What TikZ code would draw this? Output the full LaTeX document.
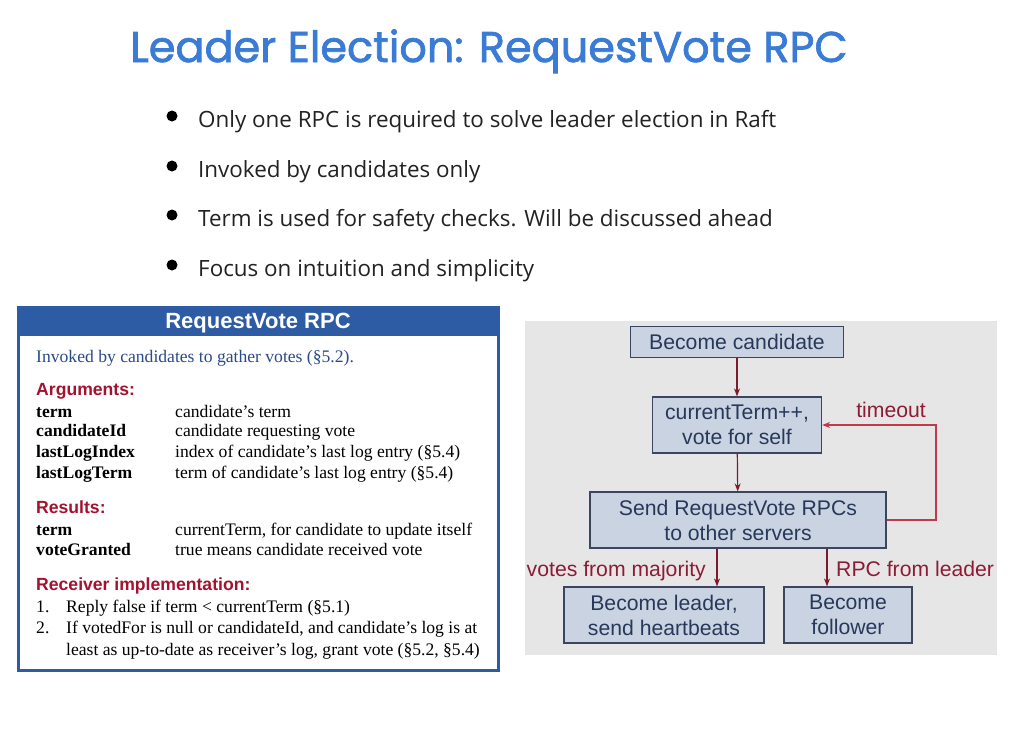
\documentclass[tikz,border=0pt]{standalone}
\usepackage{fontspec}
\usepackage{tikz}
\usetikzlibrary{arrows.meta}
\setmainfont{Liberation Serif}
\newfontfamily\titlefont{Poppins}[FakeBold=1.6]
\newfontfamily\slidefont{Open Sans}
\newfontfamily\arialfont{Liberation Sans}
\definecolor{titleblue}{HTML}{3A7BD5}
\definecolor{slidetext}{HTML}{222222}
\definecolor{rpcblue}{HTML}{2D5CA5}
\definecolor{invokeblue}{HTML}{2A4A8A}
\definecolor{headred}{HTML}{A3122E}
\definecolor{flowbg}{HTML}{E6E6E6}
\definecolor{boxfill}{HTML}{C9D3E2}
\definecolor{boxdraw}{HTML}{3A4660}
\definecolor{boxtext}{HTML}{28385A}
\definecolor{arrowred}{HTML}{7D1A2B}
\definecolor{loopred}{HTML}{C03A4C}
\definecolor{labelred}{HTML}{8E1B35}
\tikzset{
  bullettext/.style={anchor=base west, inner sep=0pt, text=slidetext, font=\slidefont\fontsize{22.4}{26}\selectfont},
  dot/.style      ={fill=black},
  argname/.style  ={anchor=base west, inner sep=0pt, font=\fontsize{17.6}{20}\selectfont\bfseries},
  argtext/.style  ={anchor=base west, inner sep=0pt, font=\fontsize{17.6}{20}\selectfont},
  heading/.style  ={anchor=base west, inner sep=0pt, text=headred, font=\arialfont\fontsize{17.6}{20}\selectfont\bfseries},
  stepbox/.style  ={draw=boxdraw, fill=boxfill, line width=1.2pt, text=boxtext, align=center,
                    inner sep=0pt, font=\arialfont\fontsize{21.2}{25}\selectfont},
  flow/.style     ={draw=arrowred, line width=1.2pt, -{Stealth[length=8pt,width=6pt]}},
  loopflow/.style ={draw=loopred, line width=1.4pt, -{Stealth[length=8pt,width=6pt]}},
  edgelabel/.style={inner sep=0pt, text=labelred, font=\arialfont\fontsize{21.2}{25}\selectfont},
}
\begin{document}
\begin{tikzpicture}[x=1pt,y=-1pt]
  \useasboundingbox[fill=white] (0,0) rectangle (1024,747);
  % title and bullets
  \node[anchor=base west, inner sep=0pt, text=titleblue, font=\titlefont\fontsize{43}{48}\selectfont]
    (title) at (130,62) {Leader Election: RequestVote RPC};
  \foreach \y/\t [count=\i] in {127/Only one RPC is required to solve leader election in Raft,
                                177/Invoked by candidates only,
                                226/Term is used for safety checks. Will be discussed ahead,
                                276/Focus on intuition and simplicity}{
    \fill[dot] (172,\y-11) circle (5.5);
    \node[bullettext] (b\i) at (198,\y) {\t};
  }
  % RequestVote RPC summary box
  \fill[white] (18,307) rectangle (498,670);
  \fill[rpcblue] (18,307) rectangle (498,336);
  \draw[rpcblue, line width=3pt] (18,307) rectangle (498,670);
  \node[text=white, font=\arialfont\fontsize{22}{25}\selectfont\bfseries] (rpchead) at (258,323) {RequestVote RPC};
  \node[argtext, text=invokeblue] (invoked) at (36,362) {Invoked by candidates to gather votes (§5.2).};
  \node[heading] (args) at (36,395) {Arguments:};
  \node[argname] (a1) at (36,417) {term};          \node[argtext] (d1) at (175,417) {candidate’s term};
  \node[argname] (a2) at (36,436) {candidateId};   \node[argtext] (d2) at (175,436) {candidate requesting vote};
  \node[argname] (a3) at (36,457) {lastLogIndex};  \node[argtext] (d3) at (175,457) {index of candidate’s last log entry (§5.4)};
  \node[argname] (a4) at (36,478) {lastLogTerm};   \node[argtext] (d4) at (175,478) {term of candidate’s last log entry (§5.4)};
  \node[heading] (res) at (36,513) {Results:};
  \node[argname] (r1) at (36,535) {term};          \node[argtext] (e1) at (175,535) {currentTerm, for candidate to update itself};
  \node[argname] (r2) at (36,555) {voteGranted};   \node[argtext] (e2) at (175,555) {true means candidate received vote};
  \node[heading] (recv) at (36,590) {Receiver implementation:};
  \node[argtext] (n1) at (36,612) {1.};  \node[argtext] (i1) at (66,612) {Reply false if term < currentTerm (§5.1)};
  \node[argtext] (n2) at (36,633) {2.};  \node[argtext] (i2) at (66,633) {If votedFor is null or candidateId, and candidate’s log is at};
  \node[argtext] (i3) at (66,655) {least as up-to-date as receiver’s log, grant vote (§5.2, §5.4)};
  % election flow chart
  \fill[flowbg] (525,321) rectangle (997,655);
  \node[stepbox, minimum width=213, minimum height=31] (cand) at (737,342) {Become candidate};
  \node[stepbox, minimum width=169, minimum height=56] (cur)  at (737,425) {currentTerm++,\\vote for self};
  \node[stepbox, minimum width=296, minimum height=56] (send) at (738,520) {Send RequestVote RPCs\\to other servers};
  \node[stepbox, minimum width=200, minimum height=56] (lead) at (664,615) {Become leader,\\send heartbeats};
  \node[stepbox, minimum width=128, minimum height=56] (foll) at (848,615) {Become\\follower};
  \coordinate (ldx) at (717,0);
  \coordinate (flx) at (827,0);
  \coordinate (tcorner) at (936,425);
  \draw[flow] (cand) -- (cur);
  \draw[flow] (cur) -- (send);
  \draw[flow] (send.south -| ldx) -- (lead.north -| ldx);
  \draw[flow] (send.south -| flx) -- (foll.north -| flx);
  \draw[loopflow] (send.east) -| (tcorner) -- (cur.east);
  \node[edgelabel, anchor=base east] (maj) at (706,576) {votes from majority};
  \node[edgelabel, anchor=base west] (rpcl) at (836,576) {RPC from leader};
  \node[edgelabel, anchor=base] (tout) at (891,417) {timeout};
\end{tikzpicture}
\end{document}
